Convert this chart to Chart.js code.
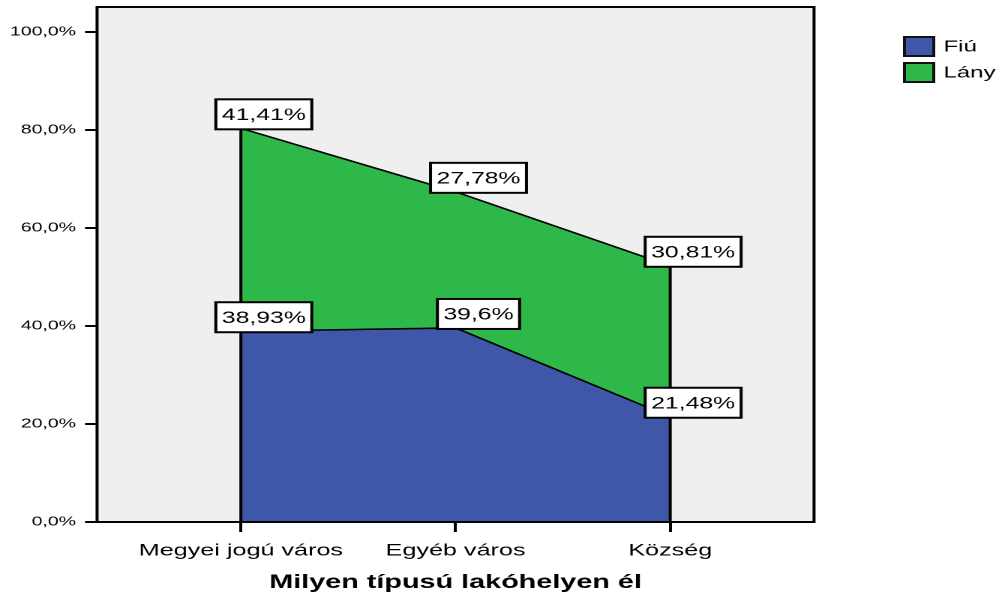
<!DOCTYPE html>
<html>
<head>
<meta charset="utf-8">
<script src="https://cdn.jsdelivr.net/npm/chart.js@4/dist/chart.umd.min.js"></script>
<style>
html,body{margin:0;padding:0;background:#fff;}
canvas{display:block;}
</style>
</head>
<body>
<canvas id="c" width="670" height="594" style="width:1005px;height:594px;"></canvas>
<script>
const categories = ['Megyei jogú város', 'Egyéb város', 'Község'];
const fiuValues = [38.93, 39.6, 21.48];
const lanyValues = [41.41, 27.78, 30.81];
const seriesLabels = ['Fiú', 'Lány'];
const seriesColors = ['#3F57A9', '#2FB84A'];
const yTicks = [0, 20, 40, 60, 80, 100];
const xAxisTitle = 'Milyen típusú lakóhelyen él';

const FONT = '"Liberation Sans", Arial, Helvetica, sans-serif';

function fmtPct(v, dec) {
  return (dec === undefined ? String(v) : v.toFixed(dec)).replace('.', ',') + '%';
}

const areaPlugin = {
  id: 'spssArea',
  beforeDraw(chart) {
    const {ctx, chartArea: a} = chart;
    ctx.save();
    ctx.fillStyle = '#EFEFEF';
    ctx.fillRect(a.left, a.top, a.right - a.left, a.bottom - a.top);
    ctx.restore();
  },
  afterDatasetsDraw(chart) {
    const {ctx, chartArea: a} = chart;
    const yScale = chart.scales.y;
    const topMeta = chart.getDatasetMeta(chart.data.datasets.length - 1);
    const pts = topMeta.data;
    ctx.save();
    ctx.strokeStyle = '#000';
    ctx.lineWidth = 2;
    [pts[0], pts[pts.length - 1]].forEach(p => {
      ctx.beginPath();
      ctx.moveTo(p.x, yScale.getPixelForValue(0));
      ctx.lineTo(p.x, p.y);
      ctx.stroke();
    });
    // plot frame
    ctx.lineWidth = 2;
    ctx.strokeRect(a.left, a.top, a.right - a.left, a.bottom - a.top);
    // data labels
    ctx.font = '16.5px ' + FONT;
    ctx.textAlign = 'center';
    ctx.textBaseline = 'middle';
    chart.data.datasets.forEach((ds, di) => {
      const meta = chart.getDatasetMeta(di);
      meta.data.forEach((el, i) => {
        const txt = fmtPct(ds.raw[i]);
        const w = ctx.measureText(txt).width + 8;
        const h = 30;
        const cx = el.x + 15.3;
        const bottom = el.y + 1;
        ctx.fillStyle = '#fff';
        ctx.fillRect(cx - w / 2, bottom - h, w, h);
        ctx.lineWidth = 2;
        ctx.strokeStyle = '#000';
        ctx.strokeRect(cx - w / 2, bottom - h, w, h);
        ctx.fillStyle = '#000';
        ctx.fillText(txt, cx, bottom - h / 2 + 1);
      });
    });
    // legend
    ctx.textAlign = 'left';
    ctx.textBaseline = 'middle';
    chart.data.datasets.forEach((ds, di) => {
      const y = 37 + di * 26;
      ctx.fillStyle = ds.backgroundColor;
      ctx.fillRect(603, y, 19.5, 19);
      ctx.lineWidth = 2;
      ctx.strokeStyle = '#111';
      ctx.strokeRect(603, y, 19.5, 19);
      ctx.fillStyle = '#000';
      ctx.font = '16px ' + FONT;
      ctx.fillText(ds.label, 629, y + 10);
    });
    ctx.restore();
  }
};

const datasets = [fiuValues, lanyValues].map((vals, di) => ({
  label: seriesLabels[di],
  raw: vals,
  data: vals.map((v, i) => ({x: i, y: v})),
  backgroundColor: seriesColors[di],
  borderColor: '#000',
  borderWidth: 1.6,
  fill: di === 0 ? 'origin' : '-1',
  pointRadius: 0,
  pointHoverRadius: 0,
  tension: 0
}));

new Chart(document.getElementById('c'), {
  type: 'line',
  data: {datasets},
  options: {
    responsive: false,
    devicePixelRatio: 2,
    animation: false,
    events: [],
    layout: {padding: {left: 0, right: 127.3, top: 7, bottom: 0}},
    plugins: {legend: {display: false}, tooltip: {enabled: false}},
    scales: {
      x: {
        type: 'linear',
        min: -0.67,
        max: 2.67,
        afterBuildTicks(s) { s.ticks = categories.map((c, i) => ({value: i})); },
        afterFit(s) { s.height = 72; s.paddingLeft = 0; s.paddingRight = 0; },
        border: {display: false},
        grid: {drawOnChartArea: false, drawTicks: true, tickLength: 10, color: '#000', lineWidth: 2},
        ticks: {
          callback: v => categories[v],
          font: {family: FONT, size: 16.8},
          color: '#000',
          padding: 9,
          maxRotation: 0,
          autoSkip: false
        },
        title: {
          display: true,
          text: xAxisTitle,
          font: {family: FONT, size: 19.2, weight: 'bold'},
          color: '#000',
          padding: {top: 0, bottom: 0}
        }
      },
      y: {
        stacked: true,
        min: 0,
        max: 105.1,
        afterBuildTicks(s) { s.ticks = yTicks.map(v => ({value: v})); },
        afterFit(s) { s.width = 64.7; s.paddingTop = 0; s.paddingBottom = 0; },
        border: {display: false},
        grid: {drawOnChartArea: false, drawTicks: true, tickLength: 8, color: '#000', lineWidth: 2},
        ticks: {
          callback: v => fmtPct(v, 1),
          font: {family: FONT, size: 13},
          color: '#000',
          padding: 6
        }
      }
    }
  },
  plugins: [areaPlugin]
});
</script>
</body>
</html>
